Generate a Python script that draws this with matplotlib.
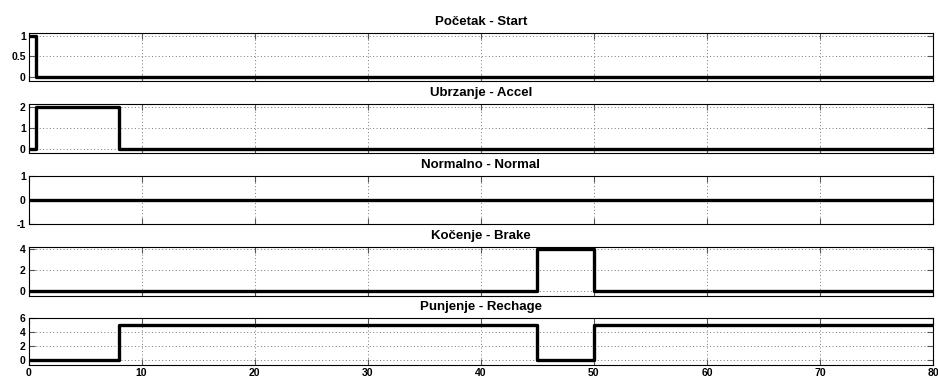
import numpy as np
import matplotlib
matplotlib.use("Agg")
import matplotlib.pyplot as plt

plt.rcParams['font.family'] = ['Liberation Sans', 'DejaVu Sans']

# step signals: (time of change, value from that time on)
t_end = 80
start_t = [0, 0.7, 80]
start_v = [1, 0, 0]
accel_t = [0, 0.7, 8, 80]
accel_v = [0, 2, 0, 0]
normal_t = [0, 80]
normal_v = [0, 0]
brake_t = [0, 45, 50, 80]
brake_v = [0, 4, 0, 0]
charge_t = [0, 8, 45, 50, 80]
charge_v = [0, 5, 0, 5, 5]

titles = ["Početak - Start", "Ubrzanje - Accel", "Normalno - Normal",
          "Kočenje - Brake", "Punjenje - Rechage"]
yticks = [[0, 0.5, 1], [0, 1, 2], [-1, 0, 1], [0, 2, 4], [0, 2, 4, 6]]
ytick_labels = [["0", "0.5", "1"], ["0", "1", "2"], ["-1", "0", "1"],
                ["0", "2", "4"], ["0", "2", "4", "6"]]
ylims = [(-0.1, 1.07), (-0.2, 2.15), (-1, 1), (-0.5, 4.2), (-0.7, 6)]
xticks = list(range(0, 81, 10))

series = [(start_t, start_v), (accel_t, accel_v), (normal_t, normal_v),
          (brake_t, brake_v), (charge_t, charge_v)]

# pixel boxes (top, bottom) of each panel
boxes = [(33, 81), (104, 153), (176, 224), (247, 296), (318, 365)]
W, H = 938, 377
fig = plt.figure(figsize=(W / 100, H / 100), dpi=100)

for i, ((t, v), (top, bot)) in enumerate(zip(series, boxes)):
    ax = fig.add_axes([28.5 / W, 1 - bot / H, (933 - 28.5) / W, (bot - top) / H])
    ax.step(t, v, where='post', color='black', lw=2.4)
    ax.set_xlim(0, t_end)
    ax.set_ylim(*ylims[i])
    ax.set_xticks(xticks)
    ax.set_yticks(yticks[i])
    ax.set_yticklabels(ytick_labels[i], fontsize=7.5, fontweight='bold')
    if i == len(series) - 1:
        ax.set_xticklabels([str(x) for x in xticks], fontsize=7.5, fontweight='bold')
    else:
        ax.set_xticklabels([])
    ax.grid(True, linestyle=(0, (1, 2.5)), color='#777777', lw=0.7)
    ax.tick_params(direction='in', length=4, width=0.8, color='#555555',
                   pad=2, top=True, right=True)
    for s in ax.spines.values():
        s.set_linewidth(0.8)
    ax.set_title(titles[i], fontsize=9.5, fontweight='bold', pad=6)

fig.savefig("out.png", dpi=100)
